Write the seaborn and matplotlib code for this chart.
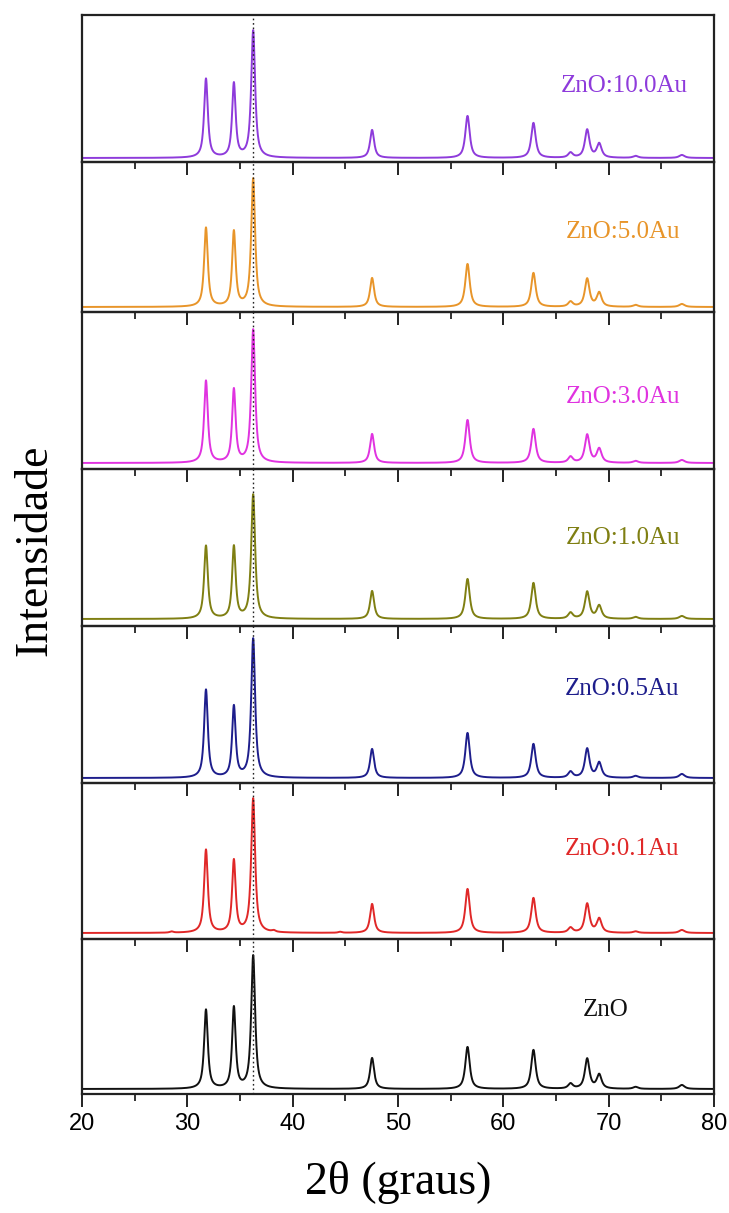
import numpy as np
import pandas as pd
import matplotlib
matplotlib.use("Agg")
import matplotlib.pyplot as plt
import seaborn as sns
from matplotlib.ticker import MultipleLocator

# ---------------- data ----------------
samples = ["ZnO:10.0Au", "ZnO:5.0Au", "ZnO:3.0Au", "ZnO:1.0Au",
           "ZnO:0.5Au", "ZnO:0.1Au", "ZnO"]
colors = ["#8E3BDB", "#E8952A", "#E033E0", "#7F7F12",
          "#1E1E8C", "#E02828", "#111111"]

# ZnO wurtzite reflections (2theta, degrees)
peak_pos = [31.77, 34.42, 36.25, 47.54, 56.60, 62.86, 66.38, 67.96, 69.10, 72.56, 76.95]
peak_fwhm = [0.42, 0.40, 0.44, 0.46, 0.50, 0.50, 0.52, 0.52, 0.54, 0.56, 0.62]

# peak heights (a.u.) for each sample, same order as peak_pos
h_10_0 = [79, 74, 127, 28, 42, 35, 5, 28, 14, 2, 3]
h_5_0 = [79, 75, 128, 29, 43, 34, 5, 28, 14, 2, 3]
h_3_0 = [82, 73, 133, 29, 43, 34, 6, 28, 14, 2, 3]
h_1_0 = [73, 72, 124, 28, 40, 36, 6, 27, 13, 2, 3]
h_0_5 = [88, 71, 139, 29, 45, 34, 6, 29, 15, 2, 4]
h_0_1 = [83, 72, 134, 29, 44, 35, 5, 29, 14, 1.5, 3]
h_zno = [79, 81, 133, 31, 42, 39, 5, 30, 14, 2, 4]
heights = [h_10_0, h_5_0, h_3_0, h_1_0, h_0_5, h_0_1, h_zno]

# weak extra reflections seen only in ZnO:0.1Au
extra_pos_01 = [28.5, 38.2, 44.5]
extra_h_01 = [1.2, 1.5, 1.0]

# y-limits for each panel (baseline at 0)
ylims = [(-4, 143), (-5, 145), (-6, 151), (-7, 150), (-5, 152), (-6, 150), (-5, 150)]
label_pos = [(71.5, 0.52), (71.4, 0.53), (71.4, 0.46), (71.4, 0.56),
             (71.3, 0.60), (71.3, 0.58), (69.7, 0.54)]
ref_line_x = 36.2

x_ticks_major = [20, 30, 40, 50, 60, 70, 80]


def pattern(x, pos, hts, fwhm):
    y = np.zeros_like(x)
    for p, h, w in zip(pos, hts, fwhm):
        g = w / 2.0
        lor = 1.0 / (1.0 + ((x - p) / g) ** 2)
        gau = np.exp(-np.log(2) * ((x - p) / g) ** 2)
        y += h * (0.85 * lor + 0.15 * gau)
    return y


x = np.linspace(20, 80, 6001)
frames = []
for name, hts in zip(samples, heights):
    y = pattern(x, peak_pos, hts, peak_fwhm)
    if name == "ZnO:0.1Au":
        y += pattern(x, extra_pos_01, extra_h_01, [0.4] * 3)
    frames.append(pd.DataFrame({"2theta": x, "I": y, "sample": name}))
df = pd.concat(frames, ignore_index=True)

# ---------------- plotting ----------------
sns.set_style("ticks")
plt.rcParams["font.family"] = ["Liberation Serif", "DejaVu Serif"]

W, H = 729, 1213
fig = plt.figure(figsize=(W / 100, H / 100), dpi=100)
fig.patch.set_facecolor("white")

panel_px = [15, 162, 312, 469, 626, 783, 939, 1094]
left, right = 82 / W, 714 / W

axes = []
for i, (name, col) in enumerate(zip(samples, colors)):
    top = 1 - panel_px[i] / H
    bot = 1 - panel_px[i + 1] / H
    ax = fig.add_axes([left, bot, right - left, top - bot], zorder=10 - i)
    ax.patch.set_visible(False)
    sub = df[df["sample"] == name]
    sns.lineplot(data=sub, x="2theta", y="I", color=col, lw=1.4, ax=ax,
                 legend=False)
    ax.axvline(ref_line_x, color="#222222", ls=(0, (1.2, 2.0)), lw=1.0)
    ax.set_xlim(20, 80)
    ax.set_ylim(*ylims[i])
    ax.set_yticks([])
    ax.set_xlabel("")
    ax.set_ylabel("")
    ax.xaxis.set_major_locator(MultipleLocator(10))
    ax.xaxis.set_minor_locator(MultipleLocator(5))
    ax.tick_params(axis="x", which="major", direction="out", length=9,
                   width=1.4, color="#222222")
    ax.tick_params(axis="x", which="minor", direction="out", length=5,
                   width=1.3, color="#222222")
    for s in ax.spines.values():
        s.set_linewidth(1.6)
        s.set_color("#222222")
        s.set_visible(True)
    lx, ly = label_pos[i]
    ax.text(lx, ly, name, transform=ax.get_xaxis_transform(), color=col,
            ha="center", va="center", fontsize=18,
            family=["Liberation Serif", "DejaVu Serif"])
    if i < len(samples) - 1:
        ax.tick_params(axis="x", labelbottom=False)
    else:
        ax.set_xticks(x_ticks_major)
        ax.tick_params(axis="x", labelbottom=True, labelsize=17, pad=5,
                       labelcolor="black")
        for t in ax.get_xticklabels():
            t.set_family(["Liberation Sans", "DejaVu Sans"])
    axes.append(ax)

fig.text(398 / W, 1 - 1183 / H, "2θ (graus)", ha="center", va="center",
         fontsize=33, color="black",
         family=["Liberation Serif", "DejaVu Serif"])
fig.text(35 / W, 1 - 550 / H, "Intensidade", ha="center", va="center",
         rotation=90, fontsize=33, color="black",
         family=["Liberation Serif", "DejaVu Serif"])

fig.savefig("out.png", dpi=100, facecolor="white")
